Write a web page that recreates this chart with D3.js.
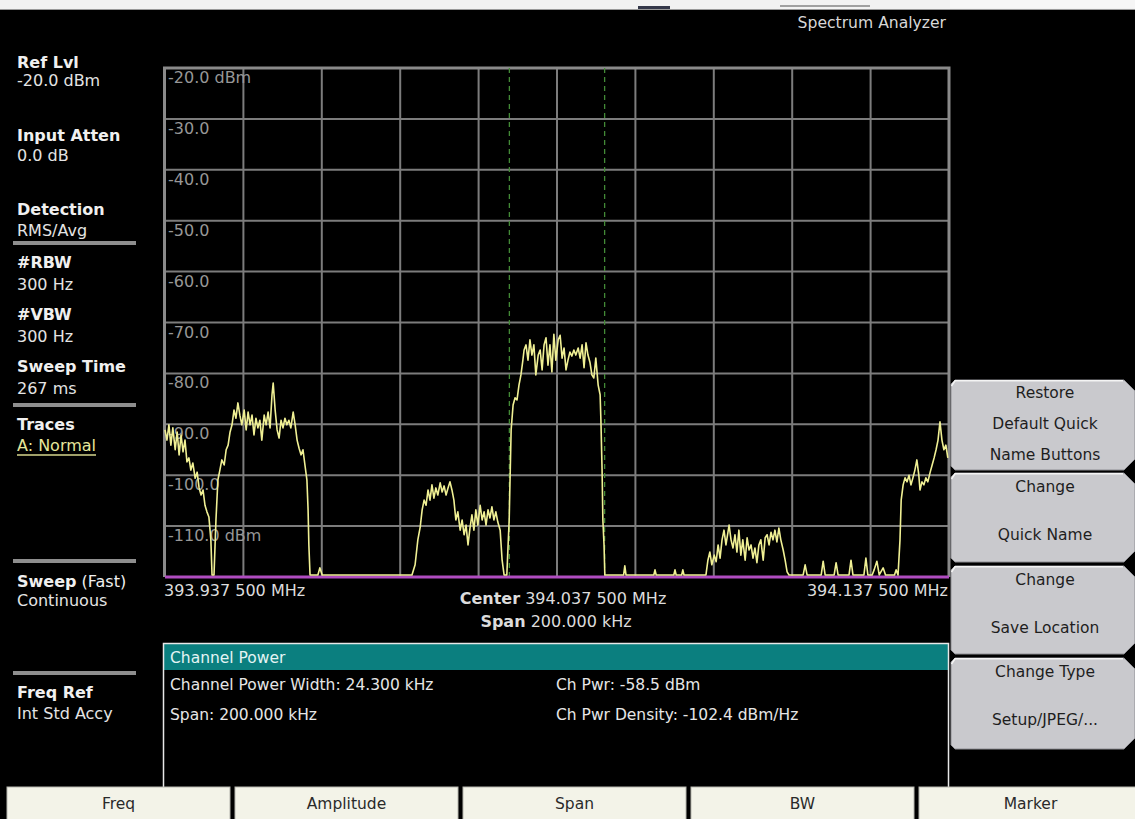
<!DOCTYPE html>
<html>
<head>
<meta charset="utf-8">
<script src="https://cdn.jsdelivr.net/npm/d3@7"></script>
<style>
  html, body { margin: 0; padding: 0; background: #000; }
  svg { display: block; font-family: "DejaVu Sans", sans-serif; }
</style>
</head>
<body>
<svg id="screen" width="1135" height="819"></svg>
<script>
// ---- Measurement settings -------------------------------------------------
const startMHz = 393.9375;
const spanKHz = 200;
const refLevel = -20;          // dBm, top of graticule
const dbPerDiv = 10;
const channelWidthKHz = 24.3;  // integration bandwidth, centred on the span

const yTickValues = [-20, -30, -40, -50, -60, -70, -80, -90, -100, -110];
const yTickLabels = ["-20.0 dBm", "-30.0", "-40.0", "-50.0", "-60.0", "-70.0",
                     "-80.0", "-90.0", "-100.0", "-110.0 dBm"];
const freqStartLabel = "393.937 500 MHz";
const freqStopLabel = "394.137 500 MHz";
const centerLabel = "394.037 500 MHz";
const spanLabel = "200.000 kHz";

// Sweep trace A: [offset from start frequency in kHz, level in dBm]
const traceA = [
  [0.0,-91.1],[0.5,-93.1],[1.0,-90.1],[1.5,-94.1],[2.0,-90.7],[2.6,-95.0],[3.1,-91.5],
  [3.6,-96.0],[4.1,-92.1],[4.6,-95.4],[5.1,-93.1],[5.6,-97.4],[6.1,-96.6],[6.6,-99.0],
  [7.1,-97.6],[7.7,-100.6],[8.2,-99.4],[8.7,-102.5],[9.2,-103.9],[9.7,-102.9],[10.2,-105.9],
  [10.7,-107.2],[11.2,-108.2],[11.7,-112.7],[12.0,-119.6],[12.5,-119.6],[13.0,-108.8],
  [13.5,-100.9],[14.0,-99.0],[14.5,-97.0],[15.1,-98.0],[15.6,-95.0],[16.1,-94.1],[16.6,-91.5],
  [17.1,-90.1],[17.6,-87.2],[18.1,-88.8],[18.6,-85.8],[19.1,-88.2],[19.6,-90.1],[20.2,-87.2],
  [20.7,-91.1],[21.2,-87.6],[21.7,-90.1],[22.2,-88.2],[22.7,-92.1],[23.2,-88.8],[23.7,-90.7],
  [24.2,-89.2],[24.7,-93.1],[25.3,-88.2],[25.8,-90.1],[26.3,-87.6],[26.8,-90.7],[27.3,-84.2],
  [27.6,-81.9],[28.1,-87.2],[28.6,-91.1],[29.1,-92.7],[29.6,-89.2],[30.1,-90.7],[30.6,-88.8],
  [31.1,-90.1],[31.6,-89.2],[32.1,-90.7],[32.7,-87.6],[33.2,-90.1],[33.7,-93.1],[34.2,-94.7],
  [34.7,-96.0],[35.2,-95.0],[35.7,-98.0],[36.2,-100.9],[36.5,-106.8],[36.7,-113.7],[37.0,-119.6],
  [39.0,-119.6],[39.5,-118.2],[40.1,-119.6],[63.0,-119.6],[63.8,-117.6],[64.5,-112.7],
  [65.1,-110.2],[65.6,-106.8],[66.1,-104.9],[66.6,-105.9],[67.1,-102.9],[67.6,-104.9],
  [68.1,-101.9],[68.6,-104.5],[69.1,-102.5],[69.6,-103.9],[70.2,-101.5],[70.7,-103.3],
  [71.2,-102.1],[71.7,-103.9],[72.2,-102.5],[72.7,-101.3],[73.2,-102.9],[73.7,-104.9],
  [74.2,-108.8],[74.7,-107.2],[75.3,-110.8],[75.8,-108.8],[76.3,-111.7],[76.8,-109.8],
  [77.3,-113.7],[77.8,-110.4],[78.3,-107.8],[78.8,-110.8],[79.3,-106.8],[79.8,-109.8],
  [80.4,-105.9],[80.9,-108.8],[81.4,-107.2],[81.9,-109.8],[82.4,-106.8],[82.9,-108.4],
  [83.4,-106.2],[83.9,-108.8],[84.4,-107.2],[84.9,-109.2],[85.5,-110.8],[86.0,-116.7],
  [86.5,-119.6],[87.2,-119.6],[87.8,-108.8],[88.3,-91.1],[88.8,-86.2],[89.3,-84.8],
  [89.8,-85.2],[90.3,-82.3],[90.8,-80.3],[91.3,-77.4],[91.6,-75.4],[92.1,-74.4],[92.6,-77.4],
  [93.1,-73.4],[93.6,-76.4],[94.1,-74.4],[94.6,-80.3],[95.2,-76.4],[95.7,-75.4],[96.2,-79.3],
  [96.7,-74.4],[97.2,-73.0],[97.7,-78.4],[98.2,-74.4],[98.7,-79.7],[99.2,-72.3],[99.7,-77.4],
  [100.3,-73.4],[100.8,-72.5],[101.3,-77.0],[101.8,-75.0],[102.3,-79.3],[102.8,-77.4],
  [103.3,-75.8],[103.8,-76.6],[104.3,-75.4],[104.8,-76.4],[105.4,-75.0],[105.9,-77.0],
  [106.4,-74.4],[106.9,-78.9],[107.4,-74.0],[107.9,-76.4],[108.4,-77.8],[108.9,-80.3],
  [109.4,-80.9],[109.9,-77.0],[110.5,-82.3],[111.0,-84.2],[111.2,-89.2],[111.5,-99.0],
  [111.7,-108.8],[112.0,-113.7],[112.2,-119.6],[117.0,-119.6],[117.3,-117.8],[117.6,-119.6],
  [124.7,-119.6],[125.0,-118.6],[125.3,-119.6],[129.8,-119.6],[130.1,-118.6],[130.4,-119.6],
  [131.8,-119.6],[132.1,-118.6],[132.4,-119.6],[138.0,-119.6],[138.5,-116.7],[139.0,-115.1],
  [139.5,-117.6],[140.1,-115.7],[140.6,-117.0],[141.1,-113.7],[141.6,-116.3],[142.1,-112.7],
  [142.6,-110.8],[143.1,-113.7],[143.9,-109.8],[144.4,-112.7],[144.9,-114.3],[145.4,-111.7],
  [145.9,-115.1],[146.4,-110.8],[146.9,-115.7],[147.4,-112.7],[148.0,-116.7],[148.5,-112.3],
  [149.0,-114.7],[149.5,-113.7],[150.0,-116.3],[150.5,-114.3],[151.0,-117.2],[151.5,-113.7],
  [152.0,-112.7],[152.6,-116.7],[153.1,-112.3],[153.6,-111.7],[154.1,-113.7],[154.6,-111.2],
  [155.1,-112.7],[155.6,-110.8],[156.1,-113.1],[156.6,-110.4],[157.1,-112.7],[157.7,-114.7],
  [158.2,-116.7],[158.7,-119.0],[159.2,-119.6],[162.8,-119.6],[163.3,-117.6],[163.8,-119.6],
  [167.4,-119.6],[167.9,-116.9],[168.4,-119.6],[170.7,-119.6],[171.2,-117.2],[171.7,-119.6],
  [174.5,-119.6],[175.0,-116.7],[175.5,-119.6],[178.3,-119.6],[178.8,-116.3],[179.3,-119.6],
  [180.4,-119.6],[180.9,-118.6],[181.6,-116.9],[182.2,-119.6],[183.2,-118.2],[183.8,-119.6],
  [186.1,-119.6],[186.5,-118.6],[187.0,-119.6],[187.5,-112.7],[187.8,-104.9],[188.3,-101.9],
  [188.8,-100.5],[189.3,-101.3],[189.8,-100.0],[190.3,-101.9],[190.8,-100.5],[191.3,-99.0],
  [191.8,-97.0],[192.3,-100.0],[192.6,-102.9],[193.1,-101.3],[193.6,-101.9],[194.1,-100.5],
  [194.6,-101.3],[195.2,-99.4],[195.7,-98.0],[196.2,-96.6],[196.7,-95.0],[197.2,-93.1],
  [197.7,-89.5],[198.2,-93.1],[198.7,-95.0],[199.2,-94.1],[199.7,-96.6]
];

// Instrument side panel: [heading, value]
const sidebarItems = [
  ["Ref Lvl", "-20.0 dBm"], ["Input Atten", "0.0 dB"], ["Detection", "RMS/Avg"],
  ["#RBW", "300 Hz"], ["#VBW", "300 Hz"], ["Sweep Time", "267 ms"],
  ["Traces", "A: Normal"], ["Sweep", "Continuous"], ["Freq Ref", "Int Std Accy"]
];
const softKeys = [
  ["Restore", "Default Quick", "Name Buttons"], ["Change", "", "Quick Name"],
  ["Change", "", "Save Location"], ["Change Type", "", "Setup/JPEG/..."]
];
const menuKeys = ["Freq", "Amplitude", "Span", "BW", "Marker"];
const channelRows = [
  ["Channel Power Width: 24.300 kHz", "Ch Pwr: -58.5 dBm"],
  ["Span: 200.000 kHz", "Ch Pwr Density: -102.4 dBm/Hz"]
];

// ---- Drawing --------------------------------------------------------------
const svg = d3.select("#screen");
svg.append("rect").attr("width", 1135).attr("height", 819).attr("fill", "#000");

// window strip along the top edge
svg.append("rect").attr("x", 0).attr("y", 0).attr("width", 1135).attr("height", 9).attr("fill", "#f2f2f2");
svg.append("line").attr("x1", 0).attr("x2", 1135).attr("y1", 9.5).attr("y2", 9.5).attr("stroke", "#9a9a9a");
svg.append("rect").attr("x", 638).attr("y", 6).attr("width", 32).attr("height", 3).attr("fill", "#34384a");
svg.append("rect").attr("x", 780).attr("y", 5).attr("width", 90).attr("height", 2).attr("fill", "#a0a0a0");
svg.append("rect").attr("x", 950).attr("y", 0).attr("width", 185).attr("height", 8).attr("fill", "#f6f6f6");

svg.append("text").attr("x", 946).attr("y", 28).attr("text-anchor", "end")
  .attr("fill", "#d8d8d8").attr("font-size", 15.6).text("Spectrum Analyzer");

// scales
const x = d3.scaleLinear().domain([0, spanKHz]).range([165, 949]);
const y = d3.scaleLinear().domain([refLevel - 10 * dbPerDiv, refLevel]).range([577, 68]);

const plot = svg.append("g");
// graticule
const vTicks = x.ticks(10).slice(1, -1);
const hTicks = y.ticks(10).slice(1, -1);
plot.selectAll("line.v").data(vTicks).join("line")
  .attr("x1", d => x(d)).attr("x2", d => x(d)).attr("y1", y.range()[1]).attr("y2", y.range()[0])
  .attr("stroke", "#7c7c7c").attr("stroke-width", 2);
plot.selectAll("line.h").data(hTicks).join("line")
  .attr("x1", x.range()[0]).attr("x2", x.range()[1]).attr("y1", d => y(d)).attr("y2", d => y(d))
  .attr("stroke", "#7c7c7c").attr("stroke-width", 2);
// frame
plot.append("path")
  .attr("d", `M${x.range()[0] - 0.5},${y.range()[0]} V${y.range()[1]} H${x.range()[1]} V${y.range()[0]}`)
  .attr("fill", "none").attr("stroke", "#8a8a8a").attr("stroke-width", 3);

// amplitude labels inside the graticule
plot.selectAll("text.yl").data(yTickValues).join("text")
  .attr("x", x.range()[0] + 3).attr("y", d => y(d) + 15)
  .attr("fill", "#979797").attr("font-size", 16)
  .text((d, i) => yTickLabels[i]);

// channel power integration limits
const chLo = spanKHz / 2 - channelWidthKHz / 2, chHi = spanKHz / 2 + channelWidthKHz / 2;
plot.selectAll("line.ch").data([chLo, chHi]).join("line")
  .attr("x1", d => x(d)).attr("x2", d => x(d)).attr("y1", y.range()[1]).attr("y2", y.range()[0])
  .attr("stroke", "#438a36").attr("stroke-width", 1.3).attr("stroke-dasharray", "5,4");

// display line at the bottom of the screen
plot.append("line").attr("x1", x.range()[0]).attr("x2", x.range()[1])
  .attr("y1", y.range()[0]).attr("y2", y.range()[0])
  .attr("stroke", "#b04cc0").attr("stroke-width", 3);

// trace
const line = d3.line().x(d => x(d[0])).y(d => y(d[1]));
plot.append("path").datum(traceA).attr("d", line)
  .attr("fill", "none").attr("stroke", "#f0f094").attr("stroke-width", 1.6)
  .attr("stroke-linejoin", "round");

// frequency annotations
const fLab = svg.append("g").attr("fill", "#dcdcdc").attr("font-size", 16);
fLab.append("text").attr("x", 164).attr("y", 596).text(freqStartLabel);
fLab.append("text").attr("x", 948).attr("y", 596).attr("text-anchor", "end").text(freqStopLabel);
const cTxt = fLab.append("text").attr("x", 563).attr("y", 604).attr("text-anchor", "middle");
cTxt.append("tspan").attr("font-weight", "bold").text("Center");
cTxt.append("tspan").text(" " + centerLabel);
const sTxt = fLab.append("text").attr("x", 556).attr("y", 627).attr("text-anchor", "middle");
sTxt.append("tspan").attr("font-weight", "bold").text("Span");
sTxt.append("tspan").text(" " + spanLabel);

// side panel
const sideLayout = [[68, 86], [141, 161], [215, 236], [268, 290], [320, 342],
                    [372, 394], [430, 451], [587, 606], [698, 719]];
const side = svg.append("g").attr("font-size", 16);
sidebarItems.forEach((it, i) => {
  const [b1, b2] = sideLayout[i];
  const t = side.append("text").attr("x", 17).attr("y", b1).attr("fill", "#f0f0f0");
  t.append("tspan").attr("font-weight", "bold").text(it[0]);
  if (it[0] === "Sweep") t.append("tspan").text(" (Fast)");
  side.append("text").attr("x", 17).attr("y", b2)
    .attr("fill", it[0] === "Traces" ? "#e6e69a" : "#e4e4e4").text(it[1]);
  if (it[0] === "Traces") {
    side.append("line").attr("x1", 17).attr("x2", 96).attr("y1", b2 + 4).attr("y2", b2 + 4)
      .attr("stroke", "#d6d68c").attr("stroke-width", 1.5);
  }
});
[243, 405, 561, 673].forEach(yy => {
  side.append("rect").attr("x", 13).attr("y", yy - 2).attr("width", 123).attr("height", 4).attr("fill", "#8e8e8e");
});

// channel power results panel
const panel = svg.append("g");
panel.append("rect").attr("x", 164).attr("y", 644).attr("width", 784).attr("height", 26).attr("fill", "#0b7f7f");
panel.append("path").attr("d", "M163.5,787 V643.5 H948.5 V787")
  .attr("fill", "none").attr("stroke", "#e8e8e8").attr("stroke-width", 1.5);
panel.append("text").attr("x", 170).attr("y", 663).attr("fill", "#e4f4f4").attr("font-size", 15.5).text("Channel Power");
channelRows.forEach((r, i) => {
  panel.append("text").attr("x", 170).attr("y", 690 + i * 30).attr("fill", "#e6e6e6").attr("font-size", 15.5).text(r[0]);
  panel.append("text").attr("x", 556).attr("y", 690 + i * 30).attr("fill", "#e6e6e6").attr("font-size", 15.5).text(r[1]);
});

// soft keys on the right
const keyTops = [380, 473, 566, 658], keyBottoms = [470, 562, 654, 749];
const keys = svg.append("g").attr("font-size", 15.5);
softKeys.forEach((k, i) => {
  const x0 = 951, x1 = 1135, y0 = keyTops[i], y1 = keyBottoms[i];
  keys.append("path")
    .attr("d", `M${x0 + 4},${y0} H${x1 - 11} L${x1},${y0 + 11} V${y1 - 11} L${x1 - 11},${y1} H${x0 + 4} L${x0},${y1 - 4} V${y0 + 4} Z`)
    .attr("fill", "#c9c9cd").attr("stroke", "#8d8d92").attr("stroke-width", 1);
  keys.append("path").attr("d", `M${x0 + 0.5},${y0 + 6} L${x0 + 4},${y0 + 0.8} H${x1 - 12}`)
    .attr("fill", "none").attr("stroke", "#f4f4f4").attr("stroke-width", 1.5);
  const lines = [y0 + 18, y0 + 49, y0 + 80];
  k.forEach((s, j) => {
    if (!s) return;
    let yy = lines[j];
    if (k[1] === "") yy = j === 0 ? y0 + 19 : y0 + 67;
    keys.append("text").attr("x", 1045).attr("y", yy).attr("text-anchor", "middle")
      .attr("fill", "#1e1e1e").text(s);
  });
});

// bottom menu bar
const menuX = d3.scaleBand().domain(menuKeys).range([5, 1140]).paddingInner(0.022);
const menu = svg.append("g").attr("font-size", 15.5);
menuKeys.forEach(m => {
  menu.append("rect").attr("x", menuX(m) + 2).attr("y", 787).attr("width", menuX.bandwidth()).attr("height", 34)
    .attr("fill", "#f3f3e8").attr("stroke", "#b8b8b0").attr("stroke-width", 1);
  menu.append("text").attr("x", menuX(m) + 2 + menuX.bandwidth() / 2).attr("y", 809)
    .attr("text-anchor", "middle").attr("fill", "#2a2a2a").text(m);
});
</script>
</body>
</html>
